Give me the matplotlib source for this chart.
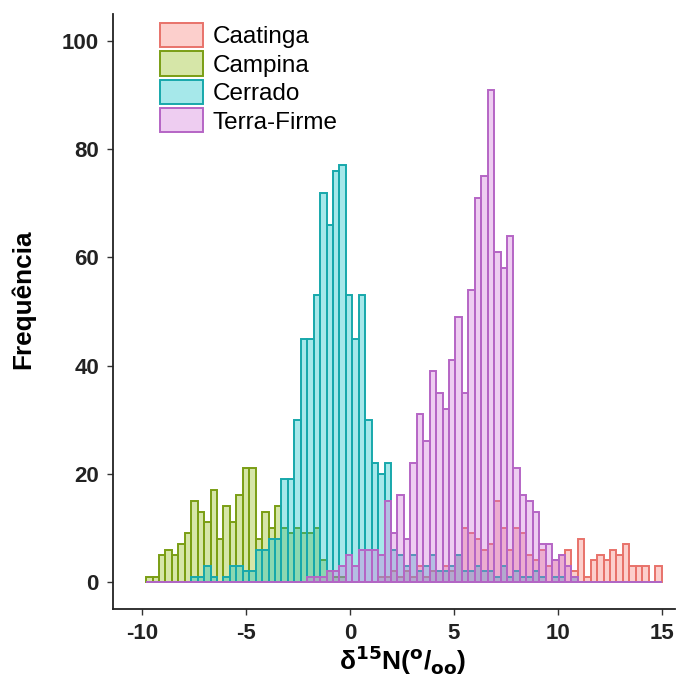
import numpy as np
import matplotlib
matplotlib.use("Agg")
from matplotlib import pyplot as plt
from matplotlib.patches import Patch

plt.rcParams['font.family'] = ['Liberation Sans', 'DejaVu Sans']
plt.rcParams['axes.unicode_minus'] = False

# bin edges of the histogram (80 bins)
edges = np.linspace(-9.8, 15.0, 81)

groups = ['Caatinga', 'Campina', 'Cerrado', 'Terra-Firme']
fills = ['#F8766D', '#8CBA06', '#00BFC4', '#D070D8']
lines = ['#E8726A', '#7A9E14', '#17A8AB', '#B565C5']

# counts per bin
caatinga = [0] * 36 + [1, 1, 2, 1, 2, 1, 3, 1, 2, 2, 3, 2, 5, 10, 9, 8, 6, 7, 15, 10,
                       6, 10, 9, 5, 4, 6, 3, 4, 5, 6, 2, 8, 1, 4, 5, 4, 6, 5, 7, 3,
                       3, 3, 0, 3]
campina = [1, 1, 5, 6, 5, 7, 9, 15, 13, 11, 17, 8, 14, 11, 16, 21, 21, 8, 13, 10,
           14, 10, 9, 10, 9, 9, 10, 4, 2, 1, 1] + [0] * 49
cerrado = [0] * 7 + [1, 1, 3, 1, 0, 1, 3, 3, 2, 2, 6, 6, 8, 8, 19, 19, 30, 45, 45,
                     53, 72, 66, 76, 77, 53, 45, 53, 30, 22, 20, 22, 6, 5, 3, 5, 2, 3,
                     5, 2, 2, 3, 5, 2, 2, 3, 2, 2, 1, 3, 1, 2, 1, 1, 2, 1, 0, 1, 1, 0,
                     1] + [0] * 13
terra_firme = [0] * 25 + [1, 1, 1, 2, 2, 3, 5, 3, 6, 6, 6, 5, 15, 9, 16, 8, 22, 31, 26,
                          39, 35, 32, 41, 49, 35, 54, 71, 75, 91, 61, 58, 64, 21, 16,
                          15, 13, 7, 7, 4, 5, 3, 1] + [0] * 13

series = [caatinga, campina, cerrado, terra_firme]

fig = plt.figure(figsize=(6.84, 6.80), dpi=100)
ax = fig.add_axes([0.165, 0.1044, 0.822, 0.875])

width = edges[1] - edges[0]
for counts, fc, ec in zip(series, fills, lines):
    ax.bar(edges[:-1], counts, width=width, align='edge',
           facecolor=matplotlib.colors.to_rgba(fc, 0.35),
           edgecolor=ec, linewidth=1.4)

ax.set_xlim(-11.4, 15.65)
ax.set_ylim(-5, 105)
ax.set_xticks([-10, -5, 0, 5, 10, 15])
ax.set_yticks([0, 20, 40, 60, 80, 100])
for s in ['top', 'right']:
    ax.spines[s].set_visible(False)
for s in ['left', 'bottom']:
    ax.spines[s].set_linewidth(1.3)
    ax.spines[s].set_color('#222222')
ax.tick_params(length=4, width=1, color='#333333', labelsize=16,
               labelcolor='#222222', pad=6)
for lab in ax.get_xticklabels() + ax.get_yticklabels():
    lab.set_fontweight('bold')

ax.set_ylabel('Frequência', fontsize=18.8, fontweight='bold', labelpad=19)
ax.yaxis.label.set_y(0.52)
ax.set_xlabel(r'δ$^{\mathbf{15}}$N($^{\mathbf{o}}$/$_{\mathbf{oo}}$)',
              fontsize=19, fontweight='bold', labelpad=0)
ax.xaxis.label.set_x(0.515)

handles = [Patch(facecolor=matplotlib.colors.to_rgba(fc, 0.35), edgecolor=ec,
                 linewidth=1.4, label=g) for g, fc, ec in zip(groups, fills, lines)]
ax.legend(handles=handles, loc='upper left', bbox_to_anchor=(0.084, 0.985),
          frameon=False, fontsize=17.5, handlelength=1.75, handleheight=1.15,
          labelspacing=0.13, handletextpad=0.42, borderaxespad=0, borderpad=0)

fig.savefig('out.png', dpi=100)
